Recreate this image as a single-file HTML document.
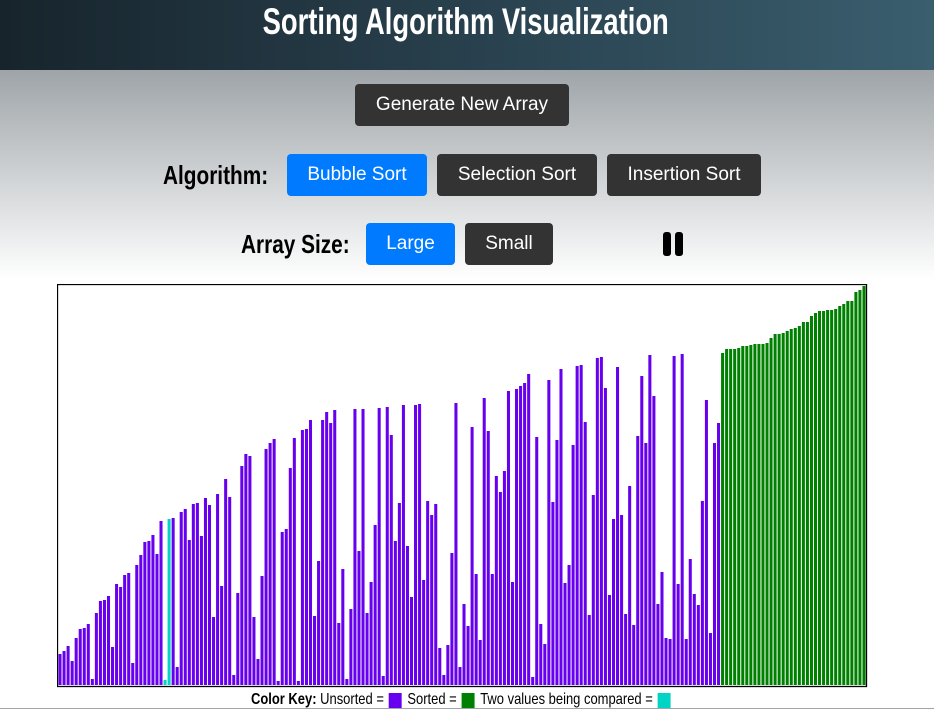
<!DOCTYPE html>
<html><head><meta charset="utf-8"><style>
*{margin:0;padding:0;box-sizing:border-box}
body{width:934px;height:708px;overflow:hidden;position:relative;font-family:"Liberation Sans",sans-serif;background:linear-gradient(#9ea4a8 70px,#ffffff 280px,#ffffff)}
.hdr{position:absolute;left:0;top:0;width:934px;height:70px;background:linear-gradient(90deg,#17242c,#2c4654 60%,#3a5e6e)}
.cond{font-family:"Liberation Sans Narrow","Liberation Sans",sans-serif;font-weight:bold}
h1{position:absolute;left:0;width:934px;top:1px;text-align:center;color:#fff;font-size:37px;transform:scaleX(0.74);transform-origin:462px 0}
.btn{position:absolute;border-radius:4px;background:#333;color:#fff;font-size:19px;display:flex;align-items:center;justify-content:center}
.blue{background:#007bff}
.lbl{position:absolute;font-size:26px;color:#000;transform:scaleX(0.8);transform-origin:0 0;white-space:nowrap}
#chart{position:absolute;left:57px;top:284px}
.key{position:absolute;top:691px;left:251px;font-size:16px;white-space:nowrap;display:flex;align-items:center;transform:scaleX(0.81);transform-origin:0 0}
.sw{display:inline-block;width:16px;height:15px;margin:0 7px 0 6px}
</style></head><body>
<div class="hdr"></div>
<h1 class="cond">Sorting Algorithm Visualization</h1>
<div class="btn" style="left:355px;top:84px;width:214px;height:42px">Generate New Array</div>
<div class="lbl cond" style="left:163px;top:160px">Algorithm:</div>
<div class="btn blue" style="left:287px;top:154px;width:140px;height:42px">Bubble Sort</div>
<div class="btn" style="left:437px;top:154px;width:160px;height:42px">Selection Sort</div>
<div class="btn" style="left:607px;top:154px;width:154px;height:42px">Insertion Sort</div>
<div class="lbl cond" style="left:241px;top:229px">Array Size:</div>
<div class="btn blue" style="left:366px;top:223px;width:89px;height:42px">Large</div>
<div class="btn" style="left:465px;top:223px;width:88px;height:42px">Small</div>
<div style="position:absolute;left:663px;top:232px;width:22px;height:24px">
<div style="position:absolute;left:0;top:0;width:8px;height:24px;background:#000;border-radius:3px"></div>
<div style="position:absolute;left:12px;top:0;width:8px;height:24px;background:#000;border-radius:3px"></div>
</div>
<svg id="chart" width="811" height="404">
<rect x="0.5" y="0.5" width="809" height="402" fill="#fff" stroke="#000" stroke-width="1.3"/>
<g id="bars"></g>
</svg>
<div class="key"><b>Color Key:</b>&nbsp;Unsorted =<span class="sw" style="background:#6600ee"></span>Sorted =<span class="sw" style="background:#008000"></span>Two values being compared =<span class="sw" style="background:#00d4c4"></span></div>
<script>
const values=[31,34,39,24,47,56,57,61,6,72,84,85,89,38,101,98,110,112,22,120,130,143,144,150,131,164,5,166,167,18,173,176,145,181,
182,149,187,180,68,191,99,206,188,10,92,219,231,229,68,26,109,236,242,246,4,153,156,217,247,4,255,256,265,69,124,265,273,262,
275,62,116,6,76,276,134,276,72,103,160,277,9,278,250,144,182,280,139,88,280,281,105,184,170,181,37,10,40,132,282,18,81,
59,258,111,45,287,254,111,209,193,214,294,103,296,299,302,311,8,248,61,41,305,183,245,316,102,120,240,319,320,263,70,190,327,
328,297,90,166,318,170,71,199,60,249,309,242,330,289,81,113,47,46,329,101,331,46,126,91,80,184,285,52,242,262,
332,336,336,336,337,339,339,340,341,341,341,342,347,351,351,352,354,356,357,359,363,363,369,372,374,374,375,375,376,379,381,384,384,393,395,399];
const comparedIdx=[26,27];
const sortedFrom=164;
const maxVal=400;
const g=document.getElementById('bars');
const x0=1.5,plotW=808,baseY=401,plotH=400;
const pitch=plotW/values.length;
function xs(i){return x0+i*pitch;}
function ys(v){return v/maxVal*plotH;}
values.forEach((v,i)=>{
  const r=document.createElementNS('http://www.w3.org/2000/svg','rect');
  
  
  const h=ys(v);
  r.setAttribute('x',xs(i));
  r.setAttribute('y',baseY-h);
  r.setAttribute('width',pitch-1);
  r.setAttribute('height',h);
  r.setAttribute('fill',comparedIdx.includes(i)?'#00d4c4':(i>=sortedFrom?'#008000':'#6600ee'));
  g.appendChild(r);
});
</script>
</body></html>
